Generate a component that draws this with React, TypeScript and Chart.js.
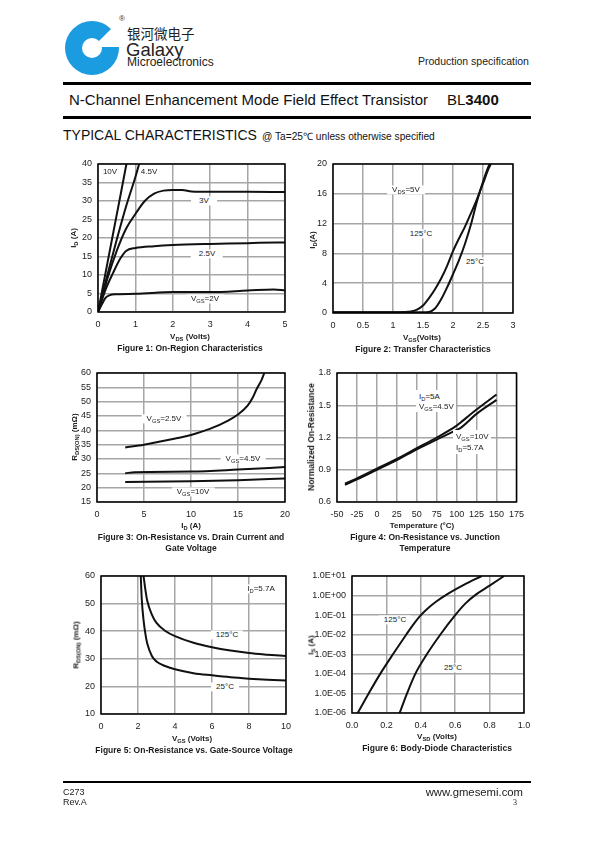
import React, { useEffect, useRef } from 'react';
import { Chart, registerables } from 'chart.js';

Chart.register(...registerables);

// ---------- Figure 1: On-Region Characteristics ----------
const F1_X_TICKS = [0, 1, 2, 3, 4, 5];
const F1_X_LABELS = ['0', '1', '2', '3', '4', '5'];
const F1_Y_TICKS = [0, 5, 10, 15, 20, 25, 30, 35, 40];
const F1_Y_LABELS = ['0', '5', '10', '15', '20', '25', '30', '35', '40'];
const F1_VDS_10V = [0, 0.2, 0.4, 0.6, 0.76];
const F1_ID_10V = [0, 10.5, 21, 31.5, 40];
const F1_VDS_45V = [0, 0.25, 0.5, 0.75, 1.0, 1.1];
const F1_ID_45V = [0, 10, 19.5, 28.5, 36.5, 40];
const F1_VDS_3V = [0, 0.25, 0.5, 0.75, 1, 1.25, 1.5, 1.75, 2, 2.25, 2.5, 3, 4, 5];
const F1_ID_3V = [0, 9, 16.5, 22.5, 26.5, 30, 32, 32.8, 33, 33, 32.6, 32.5, 32.5, 32.4];
const F1_VDS_25V = [0, 0.2, 0.4, 0.6, 0.75, 1, 1.5, 2, 3, 4, 4.3, 5];
const F1_ID_25V = [0, 6, 10.5, 14.5, 16.5, 17.3, 17.8, 18.1, 18.4, 18.6, 18.7, 18.8];
const F1_VDS_2V = [0, 0.1, 0.2, 0.3, 0.5, 1, 2, 3, 4, 4.7, 5];
const F1_ID_2V = [0, 2, 3.8, 4.5, 4.8, 4.9, 5.4, 5.4, 5.8, 6.1, 5.8];

// ---------- Figure 2: Transfer Characteristics ----------
const F2_X_TICKS = [0, 0.5, 1, 1.5, 2, 2.5, 3];
const F2_X_LABELS = ['0', '0.5', '1', '1.5', '2', '2.5', '3'];
const F2_Y_TICKS = [0, 4, 8, 12, 16, 20];
const F2_Y_LABELS = ['0', '4', '8', '12', '16', '20'];
const F2_VGS_125 = [0, 0.5, 1.0, 1.2, 1.3, 1.4, 1.5, 1.6, 1.7, 1.8, 1.9, 2.0, 2.1, 2.2, 2.3, 2.4, 2.5, 2.6, 2.63];
const F2_ID_125 = [0.1, 0.1, 0.1, 0.12, 0.2, 0.45, 1.0, 2.0, 3.2, 4.6, 6.3, 8.3, 10.0, 11.6, 13.4, 15.3, 17.4, 19.5, 20];
const F2_VGS_25 = [0, 0.5, 1.0, 1.5, 1.6, 1.7, 1.8, 1.9, 2.0, 2.1, 2.2, 2.3, 2.4, 2.5, 2.6, 2.62];
const F2_ID_25 = [0.1, 0.1, 0.1, 0.1, 0.15, 0.6, 1.8, 3.4, 5.2, 7.1, 9.3, 11.9, 15.0, 17.6, 19.8, 20];

// ---------- Figure 3: On-Resistance vs. Drain Current ----------
const F3_X_TICKS = [0, 5, 10, 15, 20];
const F3_X_LABELS = ['0', '5', '10', '15', '20'];
const F3_Y_TICKS = [15, 20, 25, 30, 35, 40, 45, 50, 55, 60];
const F3_Y_LABELS = ['15', '20', '25', '30', '35', '40', '45', '50', '55', '60'];
const F3_ID_25V = [3, 5, 7, 9, 10, 12, 14, 15, 16, 16.5, 17, 17.5, 17.8];
const F3_R_25V = [34, 35, 36.3, 37.6, 38.4, 40.5, 43.5, 45.5, 48.5, 51, 54.5, 57.5, 60];
const F3_ID_45V = [3, 4, 10, 15, 20];
const F3_R_45V = [25, 25.4, 25.6, 26.3, 27.2];
const F3_ID_10V = [3, 10, 15, 20];
const F3_R_10V = [22, 22.2, 22.6, 23.2];

// ---------- Figure 4: Normalized On-Resistance vs. Temperature ----------
const F4_X_TICKS = [-50, -25, 0, 25, 50, 75, 100, 125, 150, 175];
const F4_X_LABELS = ['-50', '-25', '0', '25', '50', '75', '100', '125', '150', '175'];
const F4_Y_TICKS = [0.6, 0.9, 1.2, 1.5, 1.8];
const F4_Y_LABELS = ['0.6', '0.9', '1.2', '1.5', '1.8'];
const F4_TEMP = [-40, -25, 0, 25, 50, 75, 100, 105, 125, 150];
const F4_R_45V = [0.77, 0.82, 0.91, 1.0, 1.1, 1.2, 1.31, 1.34, 1.46, 1.6];
const F4_R_10V = [0.76, 0.81, 0.9, 0.99, 1.09, 1.18, 1.27, 1.29, 1.42, 1.55];

// ---------- Figure 5: On-Resistance vs. Gate-Source Voltage ----------
const F5_X_TICKS = [0, 2, 4, 6, 8, 10];
const F5_X_LABELS = ['0', '2', '4', '6', '8', '10'];
const F5_Y_TICKS = [10, 20, 30, 40, 50, 60];
const F5_Y_LABELS = ['10', '20', '30', '40', '50', '60'];
const F5_VGS_25 = [2.15, 2.2, 2.3, 2.4, 2.5, 2.75, 3, 3.5, 4, 5, 6, 7, 8, 9, 10];
const F5_R_25 = [60, 52, 44, 39, 35.5, 31, 29, 27.3, 26.2, 24.8, 24, 23.3, 22.8, 22.4, 22.1];
const F5_VGS_125 = [2.3, 2.4, 2.5, 2.75, 3, 3.5, 4, 5, 6, 7, 8, 9, 10];
const F5_R_125 = [60, 55, 51, 46, 43, 40, 38.2, 35.8, 34.2, 33, 32.1, 31.5, 31];

// ---------- Figure 6: Body-Diode Characteristics ----------
const F6_X_TICKS = [0, 0.2, 0.4, 0.6, 0.8, 1.0];
const F6_X_LABELS = ['0.0', '0.2', '0.4', '0.6', '0.8', '1.0'];
const F6_Y_TICKS = [1e-6, 1e-5, 1e-4, 1e-3, 1e-2, 1e-1, 1e0, 1e1];
const F6_Y_LABELS = ['1.0E-06', '1.0E-05', '1.0E-04', '1.0E-03', '1.0E-02', '1.0E-01', '1.0E+00', '1.0E+01'];
const F6_VSD_125 = [0.033, 0.097, 0.164, 0.238, 0.315, 0.355, 0.395, 0.44, 0.49, 0.55, 0.65, 0.754];
const F6_IS_125 = [1e-6, 1e-5, 1e-4, 1e-3, 1e-2, 3.2e-2, 8.9e-2, 0.22, 0.5, 1.12, 3.5, 10];
const F6_VSD_25 = [0.277, 0.32, 0.368, 0.435, 0.513, 0.6, 0.66, 0.72, 0.8, 0.884];
const F6_IS_25 = [1e-6, 1e-5, 1e-4, 1e-3, 1e-2, 1e-1, 0.4, 1.12, 3.2, 10];

const FONT = '"Liberation Sans", Arial, Helvetica, sans-serif';
const GRID = '#a6a6a6';
const BLUE = '#1b9be0';

const pts = (xs: number[], ys: number[]) => xs.map((x, i) => ({ x, y: ys[i] }));

const line = (xs: number[], ys: number[]) => ({
  data: pts(xs, ys),
  borderColor: '#111',
  borderWidth: 2,
  pointRadius: 0,
  fill: false,
  tension: 0.4,
  cubicInterpolationMode: 'monotone' as const,
});

type AxisDef = { min: number; max: number; ticks: number[]; labels: string[]; log?: boolean };

type BoxProps = {
  plotL: number; plotT: number; plotR: number; plotB: number;
  yW: number;
  x: AxisDef; y: AxisDef;
  datasets: any[];
};

const boxPlugin = {
  id: 'plotBox',
  afterDraw(chart: any) {
    const { ctx, chartArea: a } = chart;
    ctx.save();
    ctx.strokeStyle = '#000';
    ctx.lineWidth = 1.5;
    ctx.strokeRect(a.left, a.top, a.right - a.left, a.bottom - a.top);
    ctx.restore();
  },
};

const PAD_T = 14;
const PAD_R = 14;
const X_H = 22;

function scaleCfg(s: AxisDef, axis: 'x' | 'y', size: number) {
  return {
    type: s.log ? 'logarithmic' : 'linear',
    min: s.min,
    max: s.max,
    afterBuildTicks: (sc: any) => {
      sc.ticks = s.ticks.map((v) => ({ value: v }));
    },
    afterFit: (sc: any) => {
      if (axis === 'x') sc.height = size;
      else sc.width = size;
    },
    grid: { color: GRID, lineWidth: 1.5, drawTicks: false },
    border: { display: false },
    ticks: {
      padding: axis === 'x' ? 7 : 6,
      color: '#222',
      font: { family: FONT, size: 9 },
      autoSkip: false,
      maxRotation: 0,
      callback: (_v: any, i: number) => s.labels[i],
    },
  };
}

function ChartBox(p: BoxProps) {
  const ref = useRef<HTMLCanvasElement>(null);
  const width = p.yW + (p.plotR - p.plotL) + PAD_R;
  const height = PAD_T + (p.plotB - p.plotT) + X_H;
  useEffect(() => {
    const c = ref.current;
    if (!c) return;
    const chart = new Chart(c, {
      type: 'line',
      data: { datasets: p.datasets },
      options: {
        animation: false,
        responsive: false,
        devicePixelRatio: 1,
        events: [],
        layout: { padding: { top: PAD_T, right: PAD_R, left: 0, bottom: 0 }, autoPadding: false },
        plugins: { legend: { display: false }, tooltip: { enabled: false } },
        scales: {
          x: scaleCfg(p.x, 'x', X_H) as any,
          y: scaleCfg(p.y, 'y', p.yW) as any,
        },
      } as any,
      plugins: [boxPlugin],
    });
    return () => chart.destroy();
  }, []);
  return (
    <canvas
      ref={ref}
      width={width}
      height={height}
      style={{ position: 'absolute', left: p.plotL - p.yW, top: p.plotT - PAD_T, width, height }}
    />
  );
}

type TP = {
  x: number; y: number; size?: number; bold?: boolean;
  align?: 'left' | 'center' | 'right'; bg?: boolean; pad?: number;
  family?: string; rotate?: boolean; color?: string; children: React.ReactNode;
};

function T(p: TP) {
  const tx = p.align === 'left' ? '0' : p.align === 'right' ? '-100%' : '-50%';
  return (
    <div
      style={{
        position: 'absolute',
        left: p.x,
        top: p.y,
        transform: `translate(${tx},-50%)${p.rotate ? ' rotate(-90deg)' : ''}`,
        fontFamily: p.family ?? FONT,
        fontSize: p.size ?? 8,
        fontWeight: p.bold ? 700 : 400,
        lineHeight: 1.15,
        whiteSpace: 'nowrap',
        color: p.color ?? '#1a1a1a',
        background: p.bg ? '#fff' : 'transparent',
        padding: p.bg ? `0 ${p.pad ?? 5}px` : 0,
      }}
    >
      {p.children}
    </div>
  );
}

const S = ({ c }: { c: string }) => (
  <span style={{ fontSize: '0.72em', position: 'relative', top: '0.3em' }}>{c}</span>
);

const CAP = 8.5;

export default function App() {
  return (
    <div
      style={{
        position: 'absolute', left: 0, top: 0, width: 595, height: 842,
        background: '#fff', overflow: 'hidden', fontFamily: FONT,
      }}
    >
      {/* Logo */}
      <svg style={{ position: 'absolute', left: 0, top: 0 }} width={130} height={85}>
        <circle cx={92} cy={48} r={27} fill={BLUE} />
        <polygon points="92,48 124,16 124,47 92,47" fill="#fff" />
        <circle cx={92} cy={48} r={10} fill="#fff" />
      </svg>
      <T x={119} y={19} size={8} align="left" color="#333">®</T>
      <T x={127} y={34} size={13.5} align="left" family='"Noto Sans CJK SC", sans-serif' color="#222">银河微电子</T>
      <T x={126} y={50} size={18.5} align="left" color="#222">Galaxy</T>
      <T x={127} y={63} size={12} align="left" color="#222">Microelectronics</T>
      <T x={418} y={61} size={10.5} align="left" color="#222">Production specification</T>

      <div style={{ position: 'absolute', left: 63, top: 82, width: 468, height: 2.5, background: '#000' }} />
      <T x={69} y={100} size={15} align="left" color="#111">N-Channel Enhancement Mode Field Effect Transistor</T>
      <T x={447} y={100} size={15} align="left" color="#111">
        BL<span style={{ fontWeight: 700 }}>3400</span>
      </T>
      <div style={{ position: 'absolute', left: 63, top: 116, width: 468, height: 2.5, background: '#000' }} />

      <T x={63} y={135} size={14} align="left" color="#111">TYPICAL CHARACTERISTICS</T>
      <T x={262} y={136.5} size={10.2} align="left" color="#111">@ Ta=25℃ unless otherwise specified</T>

      {/* Figure 1 */}
      <ChartBox
        plotL={98} plotT={164} plotR={285} plotB={312} yW={36}
        x={{ min: 0, max: 5, ticks: F1_X_TICKS, labels: F1_X_LABELS }}
        y={{ min: 0, max: 40, ticks: F1_Y_TICKS, labels: F1_Y_LABELS }}
        datasets={[
          line(F1_VDS_10V, F1_ID_10V),
          line(F1_VDS_45V, F1_ID_45V),
          line(F1_VDS_3V, F1_ID_3V),
          line(F1_VDS_25V, F1_ID_25V),
          line(F1_VDS_2V, F1_ID_2V),
        ]}
      />
      <T x={110} y={172}>10V</T>
      <T x={149} y={172}>4.5V</T>
      <T x={204} y={201} bg pad={8}>3V</T>
      <T x={207} y={254} bg pad={8}>2.5V</T>
      <T x={205} y={299} bg>V<S c="GS" />=2V</T>
      <T x={74} y={238} rotate bold>I<S c="D" /> (A)</T>
      <T x={190} y={337} bold>V<S c="DS" /> (Volts)</T>
      <T x={190} y={349} size={CAP} bold>Figure 1: On-Region Characteristics</T>

      {/* Figure 2 */}
      <ChartBox
        plotL={333} plotT={164} plotR={513} plotB={313} yW={30}
        x={{ min: 0, max: 3, ticks: F2_X_TICKS, labels: F2_X_LABELS }}
        y={{ min: 0, max: 20, ticks: F2_Y_TICKS, labels: F2_Y_LABELS }}
        datasets={[line(F2_VGS_125, F2_ID_125), line(F2_VGS_25, F2_ID_25)]}
      />
      <T x={406} y={190} bg>V<S c="DS" />=5V</T>
      <T x={421} y={234} bg>125°C</T>
      <T x={475} y={262} bg>25°C</T>
      <T x={313} y={240} rotate bold>I<S c="D" />(A)</T>
      <T x={422} y={338} bold>V<S c="GS" />(Volts)</T>
      <T x={423} y={350} size={CAP} bold>Figure 2: Transfer Characteristics</T>

      {/* Figure 3 */}
      <ChartBox
        plotL={97} plotT={373} plotR={285} plotB={502} yW={36}
        x={{ min: 0, max: 20, ticks: F3_X_TICKS, labels: F3_X_LABELS }}
        y={{ min: 15, max: 60, ticks: F3_Y_TICKS, labels: F3_Y_LABELS }}
        datasets={[line(F3_ID_25V, F3_R_25V), line(F3_ID_45V, F3_R_45V), line(F3_ID_10V, F3_R_10V)]}
      />
      <T x={164} y={419} bg>V<S c="GS" />=2.5V</T>
      <T x={243} y={459} bg>V<S c="GS" />=4.5V</T>
      <T x={193} y={492} bg>V<S c="GS" />=10V</T>
      <T x={75} y={437} rotate bold>R<S c="DS(ON)" /> (mΩ)</T>
      <T x={191} y={526} bold>I<S c="D" /> (A)</T>
      <T x={191} y={538} size={CAP} bold>Figure 3: On-Resistance vs. Drain Current and</T>
      <T x={191} y={549} size={CAP} bold>Gate Voltage</T>

      {/* Figure 4 */}
      <ChartBox
        plotL={337} plotT={373} plotR={517} plotB={502} yW={30}
        x={{ min: -50, max: 175, ticks: F4_X_TICKS, labels: F4_X_LABELS }}
        y={{ min: 0.6, max: 1.8, ticks: F4_Y_TICKS, labels: F4_Y_LABELS }}
        datasets={[line(F4_TEMP, F4_R_45V), line(F4_TEMP, F4_R_10V)]}
      />
      <div style={{ position: 'absolute', left: 416, top: 390, width: 40, height: 22, background: '#fff' }} />
      <T x={419} y={397} align="left">I<S c="D" />=5A</T>
      <T x={419} y={407} align="left">V<S c="GS" />=4.5V</T>
      <div style={{ position: 'absolute', left: 453, top: 430, width: 38, height: 24, background: '#fff' }} />
      <T x={456} y={437} align="left">V<S c="GS" />=10V</T>
      <T x={456} y={448} align="left">I<S c="D" />=5.7A</T>
      <T x={312} y={437} size={8.5} rotate bold>Normalized On-Resistance</T>
      <T x={422} y={526} bold>Temperature (°C)</T>
      <T x={425} y={538} size={CAP} bold>Figure 4: On-Resistance vs. Junction</T>
      <T x={425} y={549} size={CAP} bold>Temperature</T>

      {/* Figure 5 */}
      <ChartBox
        plotL={101} plotT={576} plotR={286} plotB={714} yW={36}
        x={{ min: 0, max: 10, ticks: F5_X_TICKS, labels: F5_X_LABELS }}
        y={{ min: 10, max: 60, ticks: F5_Y_TICKS, labels: F5_Y_LABELS }}
        datasets={[line(F5_VGS_25, F5_R_25), line(F5_VGS_125, F5_R_125)]}
      />
      <T x={261} y={589} bg>I<S c="D" />=5.7A</T>
      <T x={227} y={635} bg>125°C</T>
      <T x={225} y={687} bg>25°C</T>
      <T x={76} y={645} rotate bold>R<S c="DS(ON)" /> (mΩ)</T>
      <T x={192} y={739} bold>V<S c="GS" /> (Volts)</T>
      <T x={194} y={751} size={CAP} bold>Figure 5: On-Resistance vs. Gate-Source Voltage</T>

      {/* Figure 6 */}
      <ChartBox
        plotL={352} plotT={576} plotR={524} plotB={713} yW={50}
        x={{ min: 0, max: 1, ticks: F6_X_TICKS, labels: F6_X_LABELS }}
        y={{ min: 1e-6, max: 10, ticks: F6_Y_TICKS, labels: F6_Y_LABELS, log: true }}
        datasets={[line(F6_VSD_125, F6_IS_125), line(F6_VSD_25, F6_IS_25)]}
      />
      <T x={395} y={620} bg>125°C</T>
      <T x={453} y={668} bg>25°C</T>
      <T x={311} y={645} rotate bold>I<S c="S" /> (A)</T>
      <T x={437} y={737} bold>V<S c="SD" /> (Volts)</T>
      <T x={437} y={749} size={CAP} bold>Figure 6: Body-Diode Characteristics</T>

      {/* Footer */}
      <div style={{ position: 'absolute', left: 63, top: 781, width: 468, height: 1.5, background: '#000' }} />
      <T x={63} y={792} size={9} align="left">C273</T>
      <T x={63} y={802} size={9} align="left">Rev.A</T>
      <T x={523} y={792} size={11.3} align="right">www.gmesemi.com</T>
      <T x={517} y={803} size={8} align="right" family='"Liberation Serif", serif'>3</T>
    </div>
  );
}
